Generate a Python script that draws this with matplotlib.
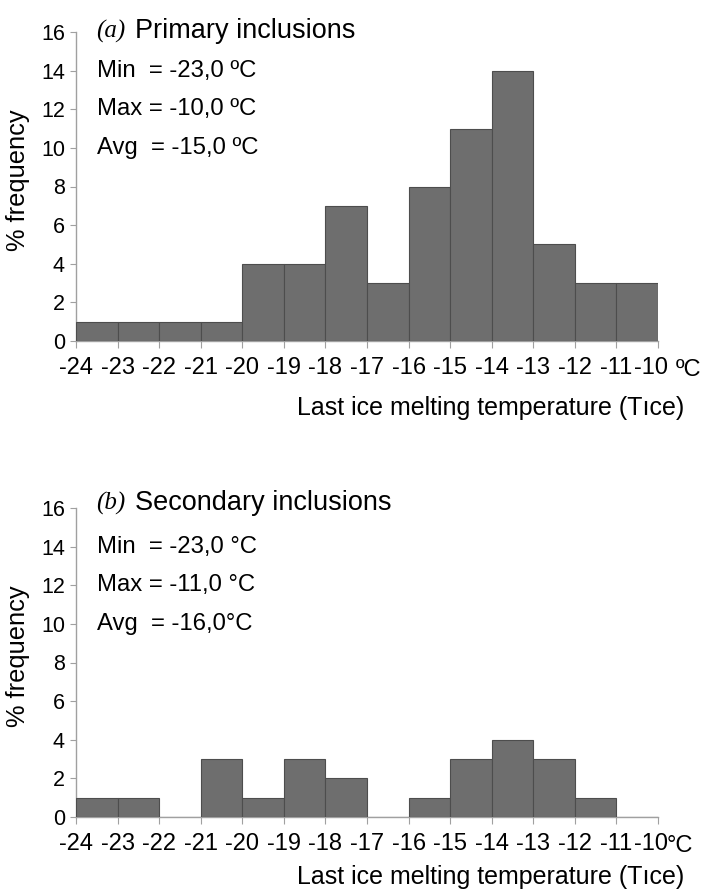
import matplotlib
matplotlib.use("Agg")
import matplotlib.pyplot as plt
import matplotlib.transforms as mtransforms
import numpy as np

bin_edges = [-24, -23, -22, -21, -20, -19, -18, -17, -16, -15, -14, -13, -12, -11, -10]
primary = [1, 1, 1, 1, 4, 4, 7, 3, 8, 11, 14, 5, 3, 3]
secondary = [1, 1, 0, 3, 1, 3, 2, 0, 1, 3, 4, 3, 1, 0]
yticks = [0, 2, 4, 6, 8, 10, 12, 14, 16]

panels = [
    dict(vals=primary, tag="(a)", title="Primary inclusions",
         stats=["Min  = -23,0 ºC", "Max = -10,0 ºC", "Avg  = -15,0 ºC"],
         unit="ºC", unit_x=676, title_y=16.05, xlab_off=67),
    dict(vals=secondary, tag="(b)", title="Secondary inclusions",
         stats=["Min  = -23,0 °C", "Max = -11,0 °C", "Avg  = -16,0°C"],
         unit="°C", unit_x=667, title_y=16.25, xlab_off=60),
]

plt.rcParams['font.family'] = ['Liberation Sans', 'DejaVu Sans']

fig = plt.figure(figsize=(7.01, 8.92), dpi=100)
W, H = 701, 892
rects = [(76, 658, 341, 32), (76, 658, 817, 508)]
barc = '#6e6e6e'
edgec = '#4d4d4d'
spc = '#a0a0a0'

for p, (x0, x1, yb, yt) in zip(panels, rects):
    ax = fig.add_axes([x0 / W, 1 - yb / H, (x1 - x0) / W, (yb - yt) / H])
    left = np.array(bin_edges[:-1])
    ax.bar(left, p["vals"], width=1, align='edge', color=barc, edgecolor=edgec, linewidth=0.8, zorder=3)
    ax.set_xlim(-24, -10)
    ax.set_ylim(0, 16)
    ax.set_yticks(yticks)
    ax.set_xticks(bin_edges)
    ax.set_xticklabels([str(b) for b in bin_edges])
    for s in ['top', 'right']:
        ax.spines[s].set_visible(False)
    for s in ['left', 'bottom']:
        ax.spines[s].set_color(spc)
        ax.spines[s].set_linewidth(1.0)
    ax.tick_params(axis='y', direction='out', length=4, color=spc, labelsize=15.5, pad=4)
    ax.tick_params(axis='x', direction='out', length=5, color=spc, labelsize=17, pad=6.5)
    last = ax.get_xticklabels()[-1]
    last.set_transform(last.get_transform() + mtransforms.ScaledTranslation(-7 / 100, 0, fig.dpi_scale_trans))
    ax.set_ylabel("% frequency", fontsize=18.3)
    ax.yaxis.set_label_coords(-0.079, 0.52)
    fig.text(p["unit_x"] / W, 1 - (yb + 29) / H, p["unit"], fontsize=17, ha='left', va='center')
    ax.text(0.034, p["title_y"], p["tag"], transform=ax.get_yaxis_transform(), fontsize=18,
            family=['Liberation Serif', 'DejaVu Serif'], style='italic', ha='left', va='center')
    ax.text(0.101, p["title_y"], p["title"], transform=ax.get_yaxis_transform(), fontsize=19.5,
            ha='left', va='center')
    for i, s in enumerate(p["stats"]):
        ax.text(0.036, 14 - 2 * i, s, transform=ax.get_yaxis_transform(), fontsize=17.2,
                ha='left', va='center')
    fig.text(297 / W, 1 - (yb + p["xlab_off"]) / H, "Last ice melting temperature (Tıce)",
             fontsize=18, ha='left', va='center')

fig.savefig("out.png", dpi=100)
